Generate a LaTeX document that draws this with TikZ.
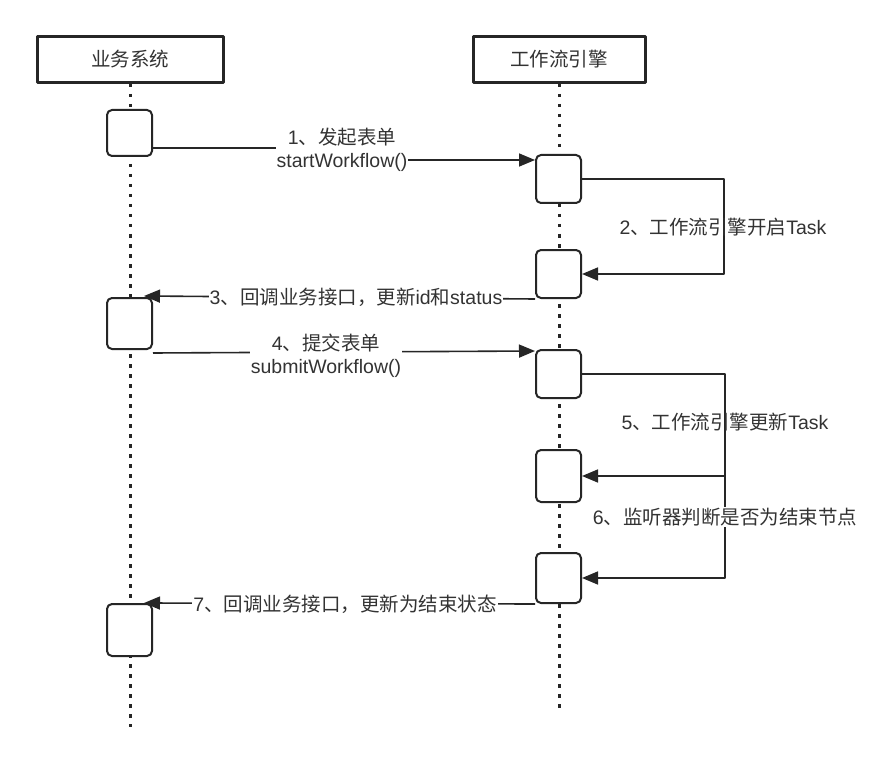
\documentclass[tikz,border=0pt]{standalone}
\usepackage{fontspec}
\setmainfont{Liberation Sans}
\newfontfamily\cjk{Noto Sans CJK SC}
\usetikzlibrary{arrows.meta,calc}
\definecolor{linec}{HTML}{262626}
\definecolor{textc}{HTML}{333333}
\begin{document}
\begin{tikzpicture}[x=1pt,y=-1pt,line join=round,
  lbl/.style={font=\fontsize{19.5}{23}\selectfont,text=textc,inner sep=1pt,align=center},
  lblbg/.style={lbl,fill=white},
  hdr/.style={draw=linec,line width=3pt,minimum height=46pt,inner sep=0pt,font=\fontsize{19.5}{23}\selectfont\cjk,text=textc},
  act/.style={draw=linec,line width=2pt,rounded corners=5pt,fill=white,minimum width=45pt,inner sep=0pt},
  life/.style={draw=linec,line width=3pt,dash pattern=on 3.5pt off 6.5pt},
  msg/.style={draw=linec,line width=1.6pt,-{Triangle[length=16pt,width=13pt]}},
  seg/.style={draw=linec,line width=1.6pt}]
\useasboundingbox[fill=white] (0,0) rectangle (879,765);

% headers
\node[hdr,minimum width=186pt] (HL) at (130,59.5) {业务系统};
\node[hdr,minimum width=172pt] (HR) at (559,59.5) {工作流引擎};

% lifelines
\coordinate (endL) at (130,727);
\coordinate (endR) at (559,708);
\draw[life] (HL.south) -- (endL);
\draw[life] (HR.south) -- (endR);

% activation boxes
\node[act,minimum height=46pt] (L1) at (129.5,133) {};
\node[act,minimum height=48pt] (R1) at (558.5,179) {};
\node[act,minimum height=48pt] (R2) at (558.5,274) {};
\node[act,minimum height=51pt] (L2) at (129.5,323.5) {};
\node[act,minimum height=48pt] (R3) at (558.5,374) {};
\node[act,minimum height=52pt] (R4) at (558.5,476) {};
\node[act,minimum height=50pt] (R5) at (558.5,578) {};
\node[act,minimum height=52pt] (L3) at (129.5,630) {};

% 1
\draw[msg] ([yshift=-15pt]L1.east) -- (342,148) -- (342,160) -- ([yshift=19pt]R1.west);
\node[lblbg] (t1) at (342,150) {1{\cjk 、发起表单}\\startWorkflow()};

% 2
\draw[msg] (R1.east) -- (724,179) -- (724,274) -- (R2.east);
\node[lbl] (t2) at (723,227) {2{\cjk 、工作流引擎开启}Task};

% 3
\draw[msg] (R2.south west) -- ([xshift=38pt,yshift=1pt]L2.north west);
\node[lblbg] (t3) at (356,297) {3{\cjk 、回调业务接口，更新}id{\cjk 和}status};

% 4
\draw[msg] ([yshift=-3pt]L2.south east) -- ([yshift=-2pt]R3.north west);
\node[lblbg] (t4) at (326,356) {4{\cjk 、提交表单}\\submitWorkflow()};

% 5 and 6
\coordinate (j5) at (725,476);
\draw[msg] (R3.east) -- (725,374) -- (j5) -- (R4.east);
\node[lbl] (t5) at (725,422) {5{\cjk 、工作流引擎更新}Task};
\draw[msg] (j5) -- (725,578) -- (R5.east);
\node[lblbg] (t6) at (725,517) {6{\cjk 、监听器判断是否为结束节点}};

% 7
\draw[msg] (R5.south west) -- ([xshift=38pt]L3.north west);
\node[lblbg] (t7) at (345,604) {7{\cjk 、回调业务接口，更新为结束状态}};
\end{tikzpicture}
\end{document}
